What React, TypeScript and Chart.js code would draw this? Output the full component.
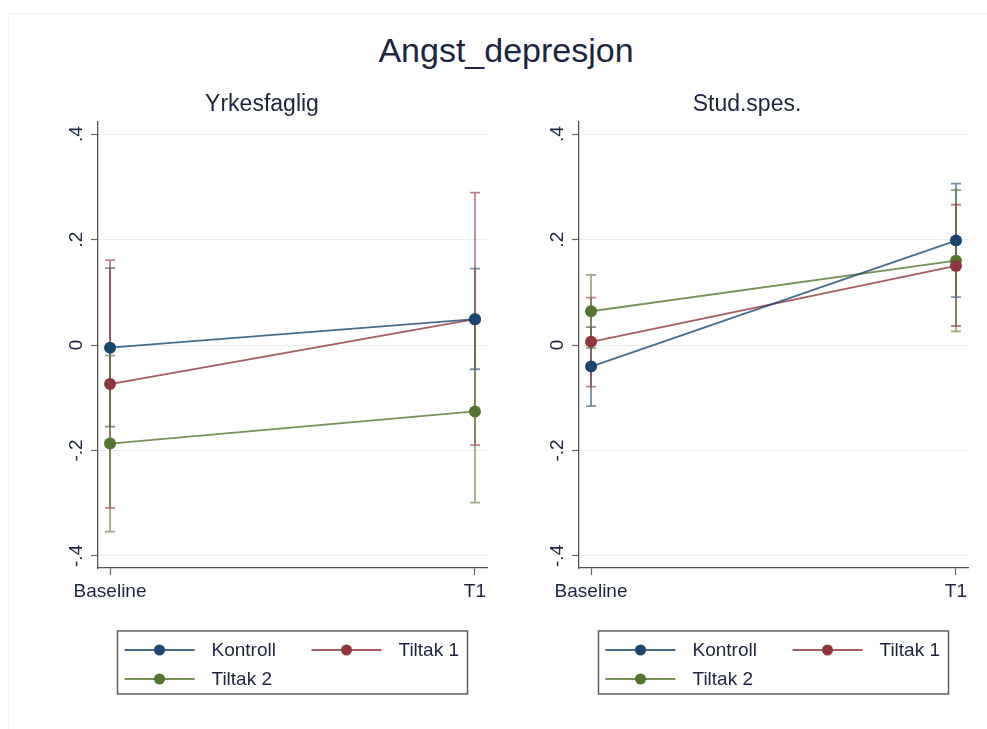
import React, { useEffect, useRef } from 'react';
import { Chart, registerables } from 'chart.js';
Chart.register(...registerables);

// ---------- data ----------
const mainTitle = 'Angst_depresjon';
const categories = ['Baseline', 'T1'];
const seriesNames = ['Kontroll', 'Tiltak 1', 'Tiltak 2'];
const yTickValues = [-0.4, -0.2, 0, 0.2, 0.4];
const yTickLabels = ['-.4', '-.2', '0', '.2', '.4'];

// Panel 1: Yrkesfaglig
const yrkTitle = 'Yrkesfaglig';
const yrkKontroll = [-0.005, 0.049];
const yrkKontrollLo = [-0.155, -0.046];
const yrkKontrollHi = [0.146, 0.145];
const yrkTiltak1 = [-0.074, 0.049];
const yrkTiltak1Lo = [-0.309, -0.19];
const yrkTiltak1Hi = [0.161, 0.289];
const yrkTiltak2 = [-0.187, -0.126];
const yrkTiltak2Lo = [-0.354, -0.299];
const yrkTiltak2Hi = [-0.02, 0.047];

// Panel 2: Stud.spes.
const studTitle = 'Stud.spes.';
const studKontroll = [-0.041, 0.198];
const studKontrollLo = [-0.116, 0.091];
const studKontrollHi = [0.034, 0.306];
const studTiltak1 = [0.006, 0.15];
const studTiltak1Lo = [-0.079, 0.036];
const studTiltak1Hi = [0.09, 0.266];
const studTiltak2 = [0.064, 0.16];
const studTiltak2Lo = [-0.006, 0.026];
const studTiltak2Hi = [0.133, 0.294];

// ---------- styles ----------
const FONT = "'Liberation Sans', Arial, sans-serif";
const TEXT = '#1c2541';
const solid = ['#1a476f', '#90353b', '#55752f'];
const lineCol = ['rgba(26,71,111,0.8)', 'rgba(144,53,59,0.8)', 'rgba(85,117,47,0.8)'];
const barCol = ['rgba(26,71,111,0.6)', 'rgba(144,53,59,0.6)', 'rgba(85,117,47,0.6)'];

const errorBarPlugin = {
  id: 'errorBars',
  beforeDatasetsDraw(chart: any) {
    const { ctx } = chart;
    const xs = chart.scales.x;
    const ys = chart.scales.y;
    ctx.save();
    chart.data.datasets.forEach((ds: any, i: number) => {
      ctx.strokeStyle = barCol[i];
      ctx.lineWidth = 1.8;
      ds.lo.forEach((lo: number, j: number) => {
        const hi = ds.hi[j];
        const px = xs.getPixelForValue(j);
        const pl = ys.getPixelForValue(lo);
        const ph = ys.getPixelForValue(hi);
        ctx.beginPath();
        ctx.moveTo(px, pl);
        ctx.lineTo(px, ph);
        ctx.moveTo(px - 5, pl);
        ctx.lineTo(px + 5, pl);
        ctx.moveTo(px - 5, ph);
        ctx.lineTo(px + 5, ph);
        ctx.stroke();
      });
    });
    ctx.restore();
  },
};

const legendBoxPlugin = {
  id: 'legendBox',
  afterDraw(chart: any) {
    const { ctx, chartArea } = chart;
    const w = 350;
    const h = 63;
    const left = (chartArea.left + chartArea.right) / 2 - w / 2;
    const top = chartArea.bottom + 63;
    ctx.save();
    ctx.strokeStyle = '#5e5e5e';
    ctx.lineWidth = 1.5;
    ctx.strokeRect(left, top, w, h);
    chart.data.datasets.forEach((ds: any, i: number) => {
      const col = i % 2;
      const row = Math.floor(i / 2);
      const sx = left + 7 + col * 187;
      const sy = top + 19 + row * 29;
      ctx.strokeStyle = ds.borderColor;
      ctx.lineWidth = 2;
      ctx.beginPath();
      ctx.moveTo(sx, sy);
      ctx.lineTo(sx + 70, sy);
      ctx.stroke();
      ctx.fillStyle = ds.pointBackgroundColor;
      ctx.beginPath();
      ctx.arc(sx + 35, sy, 5.5, 0, Math.PI * 2);
      ctx.fill();
      ctx.fillStyle = TEXT;
      ctx.font = `19px ${FONT}`;
      ctx.textAlign = 'left';
      ctx.textBaseline = 'middle';
      ctx.fillText(ds.label, sx + 87, sy + 1);
    });
    ctx.restore();
  },
};

type PanelProps = {
  title: string;
  values: number[][];
  lows: number[][];
  highs: number[][];
  padLeft: number;
  padRight: number;
  yWidth: number;
  left: number;
  width: number;
};

function Panel(p: PanelProps) {
  const ref = useRef<HTMLCanvasElement | null>(null);
  useEffect(() => {
    if (!ref.current) return;
    const chart = new Chart(ref.current, {
      type: 'line',
      data: {
        datasets: seriesNames.map((name, i) => ({
          label: name,
          data: p.values[i].map((v, j) => ({ x: j, y: v })),
          lo: p.lows[i],
          hi: p.highs[i],
          borderColor: lineCol[i],
          borderWidth: 1.8,
          backgroundColor: solid[i],
          pointBackgroundColor: solid[i],
          pointBorderColor: solid[i],
          pointBorderWidth: 0,
          pointRadius: 6,
          tension: 0,
          fill: false,
        })) as any,
      },
      options: {
        responsive: false,
        animation: false,
        devicePixelRatio: 1,
        layout: { padding: { left: p.padLeft, right: p.padRight, top: 0, bottom: 121 } },
        plugins: {
          legend: { display: false },
          tooltip: { enabled: false },
          title: {
            display: true,
            text: p.title,
            color: TEXT,
            font: { family: FONT, size: 23, weight: 'normal', lineHeight: 1.2 },
            padding: { top: 6, bottom: 3.4 },
          },
        },
        scales: {
          x: {
            type: 'linear',
            min: -0.033,
            max: 1.033,
            afterBuildTicks: (s: any) => {
              s.ticks = categories.map((_, i) => ({ value: i }));
            },
            afterFit: (s: any) => {
              s.height = 40;
              s.paddingLeft = 0;
              s.paddingRight = 0;
            },
            ticks: {
              autoSkip: false,
              maxRotation: 0,
              minRotation: 0,
              padding: 5,
              color: TEXT,
              font: { family: FONT, size: 19 },
              callback: (v: any) => categories[Math.round(Number(v))] ?? '',
            },
            grid: { drawOnChartArea: false, drawTicks: true, tickLength: 7, tickColor: '#666', tickWidth: 1.2 },
            border: { display: true, color: '#555', width: 1.3 },
          },
          y: {
            type: 'linear',
            min: -0.423,
            max: 0.423,
            afterBuildTicks: (s: any) => {
              s.ticks = yTickValues.map((v) => ({ value: v }));
            },
            afterFit: (s: any) => {
              s.width = p.yWidth;
              s.paddingTop = 0;
              s.paddingBottom = 0;
            },
            ticks: {
              minRotation: 90,
              maxRotation: 90,
              crossAlign: 'center',
              padding: 3,
              color: TEXT,
              font: { family: FONT, size: 19 },
              callback: (v: any) => {
                const k = yTickValues.findIndex((t) => Math.abs(t - Number(v)) < 1e-6);
                return k >= 0 ? yTickLabels[k] : '';
              },
            },
            grid: { color: '#e6eef0', lineWidth: 1, drawTicks: true, tickLength: 7, tickColor: '#666', tickWidth: 1.2 },
            border: { display: true, color: '#555', width: 1.3 },
          },
        },
      } as any,
      plugins: [errorBarPlugin, legendBoxPlugin],
    });
    return () => chart.destroy();
  }, []);
  return (
    <canvas
      ref={ref}
      width={p.width}
      height={644}
      style={{ position: 'absolute', left: p.left, top: 85, width: p.width, height: 644 }}
    />
  );
}

export default function App() {
  return (
    <div style={{ position: 'absolute', left: 0, top: 0, width: 987, height: 729, background: '#fff', overflow: 'hidden' }}>
      <div
        style={{
          position: 'absolute',
          left: 8,
          top: 13,
          width: 990,
          height: 730,
          borderLeft: '1px solid #f3f3f3',
          borderTop: '1px solid #f3f3f3',
        }}
      />
      <div
        style={{
          position: 'absolute',
          left: 0,
          top: 30,
          width: 1012,
          textAlign: 'center',
          fontFamily: FONT,
          fontSize: 34,
          lineHeight: '40px',
          color: TEXT,
        }}
      >
        {mainTitle}
      </div>
      <Panel
        title={yrkTitle}
        values={[yrkKontroll, yrkTiltak1, yrkTiltak2]}
        lows={[yrkKontrollLo, yrkTiltak1Lo, yrkTiltak2Lo]}
        highs={[yrkKontrollHi, yrkTiltak1Hi, yrkTiltak2Hi]}
        padLeft={37}
        padRight={6}
        yWidth={61}
        left={0}
        width={493}
      />
      <Panel
        title={studTitle}
        values={[studKontroll, studTiltak1, studTiltak2]}
        lows={[studKontrollLo, studTiltak1Lo, studTiltak2Lo]}
        highs={[studKontrollHi, studTiltak1Hi, studTiltak2Hi]}
        padLeft={33}
        padRight={19}
        yWidth={53}
        left={493}
        width={494}
      />
    </div>
  );
}
